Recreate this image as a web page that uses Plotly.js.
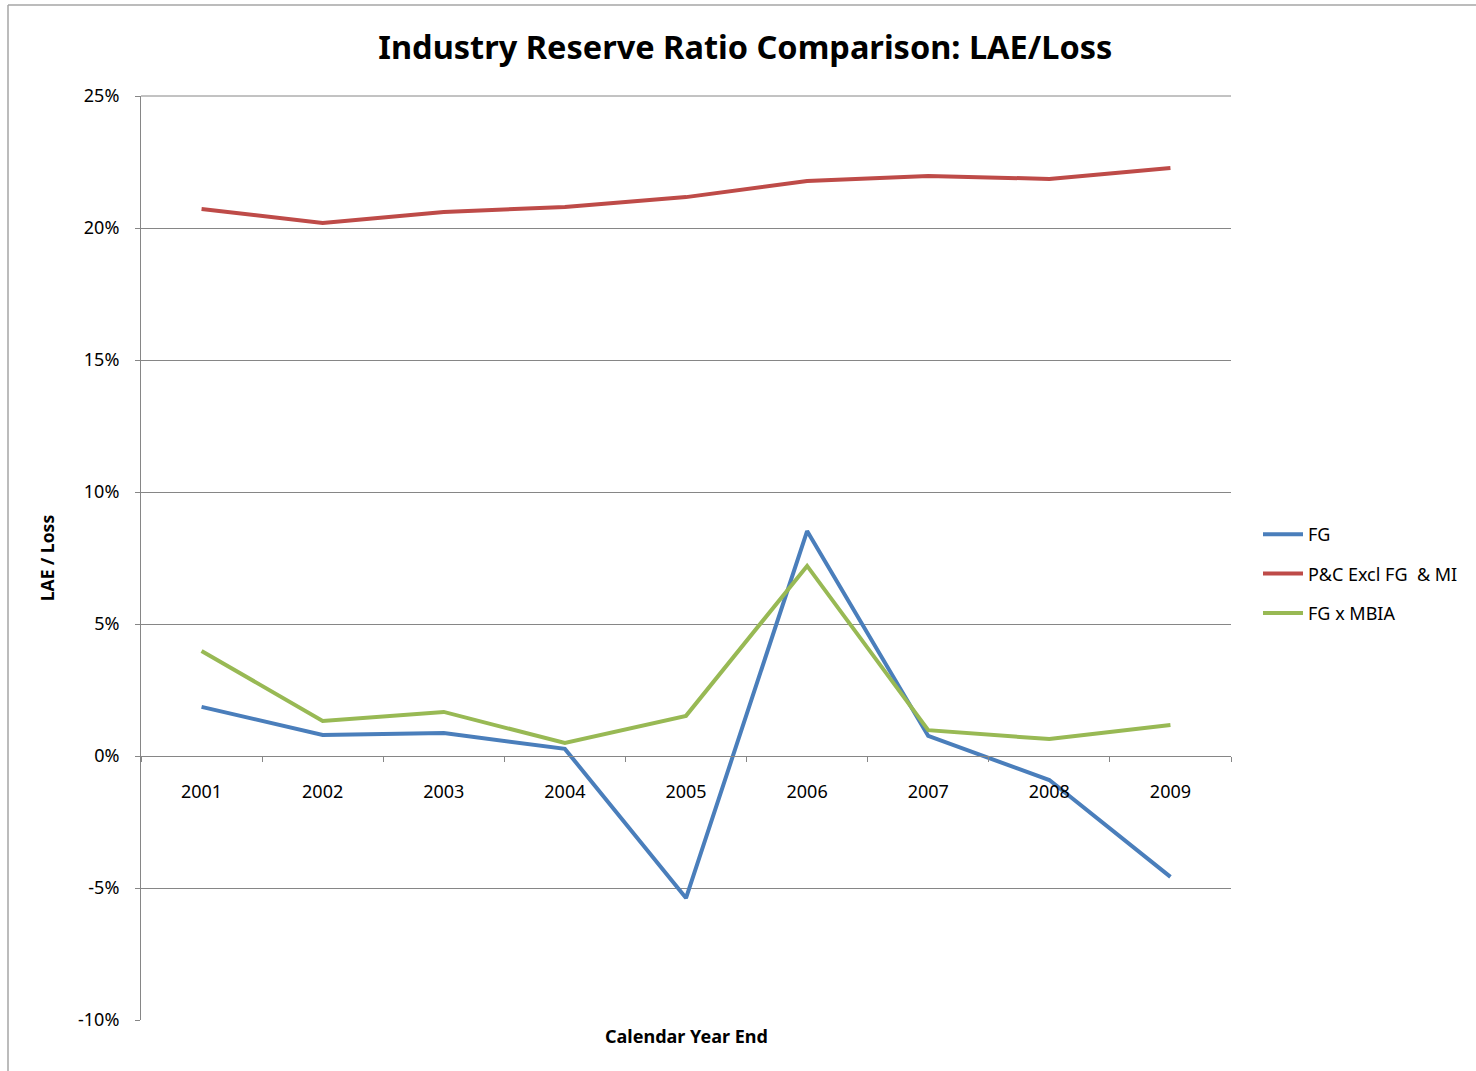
<!DOCTYPE html>
<html>
<head>
<meta charset="utf-8">
<script src="https://cdn.plot.ly/plotly-3.0.1.min.js"></script>
<style>html,body{margin:0;padding:0;background:#fff;}#chart{width:1476px;height:1071px;}</style>
</head>
<body>
<div id="chart"></div>
<script>
const years = ["2001","2002","2003","2004","2005","2006","2007","2008","2009"];
const fg = [0.0186, 0.0080, 0.0087, 0.0027, -0.0538, 0.0852, 0.0076, -0.0091, -0.0458];
const pc = [0.2072, 0.2019, 0.2061, 0.2080, 0.2117, 0.2178, 0.2197, 0.2186, 0.2227];
const fgxmbia = [0.0398, 0.0133, 0.0167, 0.0049, 0.0152, 0.0720, 0.0098, 0.0064, 0.0117];
const seriesNames = ["FG", "P&C Excl FG  & MI", "FG x MBIA"];
const yTicks = [-0.10, -0.05, 0, 0.05, 0.10, 0.15, 0.20, 0.25];
const yTickText = ["-10%", "-5%", "0%", "5%", "10%", "15%", "20%", "25%"];

const font = "Noto Sans, Open Sans, sans-serif";
const traces = [
  {x: years, y: fg, name: seriesNames[0], legendgroup: "a", type: "scatter", mode: "lines", line: {color: "#4A7EBB", width: 4}},
  {x: years, y: pc, name: seriesNames[1], legendgroup: "b", type: "scatter", mode: "lines", line: {color: "#BE4B48", width: 4}},
  {x: years, y: fgxmbia, name: seriesNames[2], legendgroup: "c", type: "scatter", mode: "lines", line: {color: "#98B954", width: 4}}
];
const W = 1090, H = 924, L = 141, T = 96;
const px = v => (v - L) / W;
const py = v => (T + H - v) / H;
const layout = {
  width: 1476, height: 1071,
  margin: {l: 141, r: 245, t: 96, b: 51, autoexpand: false},
  paper_bgcolor: "#fff", plot_bgcolor: "#fff",
  font: {family: font, size: 18, color: "#000"},
  title: {text: "<b>Industry Reserve Ratio Comparison: LAE/Loss</b>", font: {family: font, size: 32.5, color: "#000"}, x: 0.505, xref: "container", xanchor: "center", y: 1, yref: "container", yanchor: "top", pad: {t: 36}},
  showlegend: true,
  legend: {x: px(1258), xanchor: "left", y: py(574), yanchor: "middle", font: {family: font, size: 18}, tracegroupgap: 13, traceorder: "grouped", itemwidth: 40},
  xaxis: {
    type: "category", range: [-0.5, 8.5], anchor: "free", position: 10/35,
    showline: true, linecolor: "#868686", linewidth: 1,
    ticks: "outside", tickson: "boundaries", ticklen: 5, tickcolor: "#868686",
    showgrid: false, zeroline: false, fixedrange: true,
    tickfont: {family: font, size: 18}, ticklabelstandoff: 19
  },
  yaxis: {
    range: [-0.10, 0.25], tickvals: yTicks, ticktext: yTickText,
    showline: true, linecolor: "#868686", linewidth: 1,
    ticks: "outside", ticklen: 5, tickcolor: "#868686",
    showgrid: true, gridcolor: "#868686", gridwidth: 1, zeroline: false,
    tickfont: {family: font, size: 18}, ticklabelstandoff: 12,
    title: {text: "<b>LAE / Loss</b>", font: {family: font, size: 17.5}, standoff: 18}
  },
  annotations: [
    {text: "<b>Calendar Year End</b>", xref: "paper", yref: "paper", x: 0.5, y: 0, yanchor: "top", xanchor: "center", yshift: -2, showarrow: false, font: {family: font, size: 18}}
  ],
  shapes: [
    {type: "line", xref: "paper", yref: "paper", x0: 0, x1: 1, y0: 1, y1: 1, line: {color: "#868686", width: 1}},
    {type: "line", xref: "paper", yref: "paper", x0: px(8), x1: px(8), y0: py(5), y1: py(1071), line: {color: "#a6a6a6", width: 1.5}},
    {type: "line", xref: "paper", yref: "paper", x0: px(8), x1: px(1476), y0: py(5), y1: py(5), line: {color: "#a6a6a6", width: 1.5}}
  ]
};
Plotly.newPlot("chart", traces, layout, {displayModeBar: false, staticPlot: true});
</script>
</body>
</html>
